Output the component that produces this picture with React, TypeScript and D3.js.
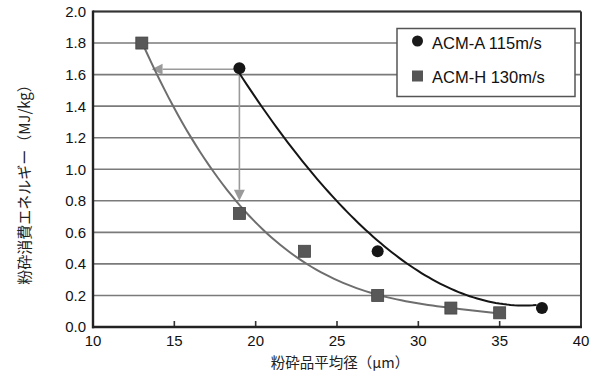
import * as d3 from "d3";

// ── Data ──────────────────────────────────────────────────────
const A_X = [19, 27.5, 37.6];
const A_Y = [1.64, 0.48, 0.12];
const H_X = [13, 19, 23, 27.5, 32, 35];
const H_Y = [1.8, 0.72, 0.48, 0.2, 0.12, 0.09];

// trend curves, points (smoothed by a polynomial fit below)
const A_TREND_X = [19, 20.16, 21.7, 23.34, 25.08, 27.0, 29.18, 32.97, 35, 37.27];
const A_TREND_Y = [1.63, 1.4, 1.2, 1.0, 0.8, 0.6, 0.4, 0.2, 0.15, 0.14];
const H_TREND_X = [13, 13.8, 15.04, 16.07, 17.15, 18.75, 20.67, 23.23, 27.6, 32, 35];
const H_TREND_Y = [1.8, 1.63, 1.4, 1.2, 1.0, 0.8, 0.6, 0.4, 0.2, 0.12, 0.085];

// arrows: from ACM-A point to ACM-H curve
const ARROW_FROM = [19, 1.634];
const ARROW_H_TO_X = 13.6;
const ARROW_V_TO_Y = 0.8;

const X_TICKS = [10, 15, 20, 25, 30, 35, 40];
const Y_TICKS = [0, 0.2, 0.4, 0.6, 0.8, 1.0, 1.2, 1.4, 1.6, 1.8, 2.0];

const LEGEND = ["ACM-A 115m/s", "ACM-H 130m/s"];

// ── Layout ────────────────────────────────────────────────────
const W = 598;
const H = 378;
const L = 93, R = 581, T = 11.5, B = 327;

const LATIN = "'Liberation Sans', Arial, Helvetica, sans-serif";
const CJK = "'Noto Sans CJK JP', 'Noto Sans', sans-serif";

// least-squares polynomial fit, x normalised to [0,1]
function polyFit(xs: number[], ys: number[], deg: number) {
  const x0 = xs[0];
  const span = xs[xs.length - 1] - x0;
  const n = deg + 1;
  const M = Array.from({ length: n }, () => new Array(n + 1).fill(0));
  xs.forEach((xv, k) => {
    const u = (xv - x0) / span;
    for (let i = 0; i < n; i++) {
      for (let j = 0; j < n; j++) M[i][j] += Math.pow(u, i + j);
      M[i][n] += Math.pow(u, i) * ys[k];
    }
  });
  for (let c = 0; c < n; c++) {
    let p = c;
    for (let r = c + 1; r < n; r++) if (Math.abs(M[r][c]) > Math.abs(M[p][c])) p = r;
    [M[c], M[p]] = [M[p], M[c]];
    for (let r = 0; r < n; r++) {
      if (r === c) continue;
      const f = M[r][c] / M[c][c];
      for (let k = c; k <= n; k++) M[r][k] -= f * M[c][k];
    }
  }
  const coef = M.map((row, i) => row[n] / row[i]);
  return (xv: number) => {
    const u = (xv - x0) / span;
    return coef.reduce((s, c, i) => s + c * Math.pow(u, i), 0);
  };
}

export default function App() {
  const x = d3.scaleLinear().domain([10, 40]).range([L, R]);
  const y = d3.scaleLinear().domain([0, 2]).range([B, T]);

  const line = d3
    .line<[number, number]>()
    .x((d) => x(d[0]))
    .y((d) => y(d[1]));

  const sample = (xs: number[], ys: number[], deg: number) => {
    const f = polyFit(xs, ys, deg);
    const lo = xs[0], hi = xs[xs.length - 1];
    return d3.range(0, 81).map((i) => {
      const xv = lo + ((hi - lo) * i) / 80;
      return [xv, f(xv)] as [number, number];
    });
  };

  const aTrend = sample(A_TREND_X, A_TREND_Y, 3);
  const hTrend = sample(H_TREND_X, H_TREND_Y, 4);

  const ax = x(ARROW_FROM[0]);
  const ay = y(ARROW_FROM[1]);
  const hx = x(ARROW_H_TO_X);
  const vy = y(ARROW_V_TO_Y);
  const head = 11;
  const hw = 5.5;
  const arrowCol = "#9a9a9a";

  return (
    <svg
      width={W}
      height={H}
      style={{ position: "absolute", left: 0, top: 0, background: "#fff" }}
    >
      {/* grid */}
      {Y_TICKS.map((t) => (
        <line key={t} x1={L} x2={R} y1={y(t)} y2={y(t)} stroke="#7a7a7a" strokeWidth={1.6} />
      ))}

      {/* y tick labels */}
      {Y_TICKS.map((t) => (
        <text
          key={t}
          x={86}
          y={y(t)}
          dy="0.36em"
          textAnchor="end"
          fontFamily={LATIN}
          fontSize={15}
          fill="#111"
        >
          {t.toFixed(1)}
        </text>
      ))}

      {/* x ticks */}
      {X_TICKS.map((t) => (
        <g key={t}>
          <line x1={x(t)} x2={x(t)} y1={B} y2={B - 6} stroke="#333" strokeWidth={1.6} />
          <text
            x={x(t)}
            y={346}
            textAnchor="middle"
            fontFamily={LATIN}
            fontSize={15}
            fill="#111"
          >
            {t}
          </text>
        </g>
      ))}

      {/* legend box */}
      <rect x={397} y={28.5} width={178} height={68} fill="#fff" stroke="#555" strokeWidth={1.5} />
      <circle cx={417.5} cy={41} r={5.5} fill="#1a1a1a" />
      <rect x={412} y={70.5} width={11} height={11} fill="#555" />
      <text x={432} y={49} fontFamily={LATIN} fontSize={16.5} fill="#111">
        {LEGEND[0]}
      </text>
      <text x={432} y={83} fontFamily={LATIN} fontSize={16.5} fill="#111">
        {LEGEND[1]}
      </text>

      {/* arrows */}
      <line x1={ax} x2={hx + head} y1={ay} y2={ay} stroke={arrowCol} strokeWidth={1.6} />
      <path d={`M${hx},${ay} L${hx + head},${ay - hw} L${hx + head},${ay + hw} Z`} fill={arrowCol} />
      <line x1={ax} x2={ax} y1={ay} y2={vy - head} stroke={arrowCol} strokeWidth={1.6} />
      <path d={`M${ax},${vy} L${ax - hw},${vy - head} L${ax + hw},${vy - head} Z`} fill={arrowCol} />

      {/* trend curves */}
      <path d={line(hTrend) ?? ""} fill="none" stroke="#6e6e6e" strokeWidth={2} />
      <path d={line(aTrend) ?? ""} fill="none" stroke="#151515" strokeWidth={2} />

      {/* markers */}
      {H_X.map((v, i) => (
        <rect
          key={i}
          x={x(v) - 6}
          y={y(H_Y[i]) - 6}
          width={12}
          height={12}
          fill="#585858"
          stroke="#444"
          strokeWidth={0.8}
        />
      ))}
      {A_X.map((v, i) => (
        <circle key={i} cx={x(v)} cy={y(A_Y[i])} r={6} fill="#161616" />
      ))}

      {/* frame */}
      <line x1={L} x2={R} y1={T} y2={T} stroke="#333" strokeWidth={2} />
      <line x1={R} x2={R} y1={T} y2={B} stroke="#333" strokeWidth={2} />
      <line x1={L} x2={L} y1={T - 1} y2={B + 1.2} stroke="#222" strokeWidth={2.4} />
      <line x1={L - 1} x2={R + 1} y1={B} y2={B} stroke="#222" strokeWidth={2.4} />

      {/* axis titles */}
      <text
        x={340}
        y={368}
        textAnchor="middle"
        fontFamily={CJK}
        fontSize={14.5}
        fill="#222"
      >
        粉砕品平均径（μm）
      </text>
      <text
        transform="translate(30,181) rotate(-90)"
        textAnchor="middle"
        fontFamily={CJK}
        fontSize={15}
        fill="#222"
      >
        粉砕消費エネルギー（MJ/kg）
      </text>
    </svg>
  );
}
